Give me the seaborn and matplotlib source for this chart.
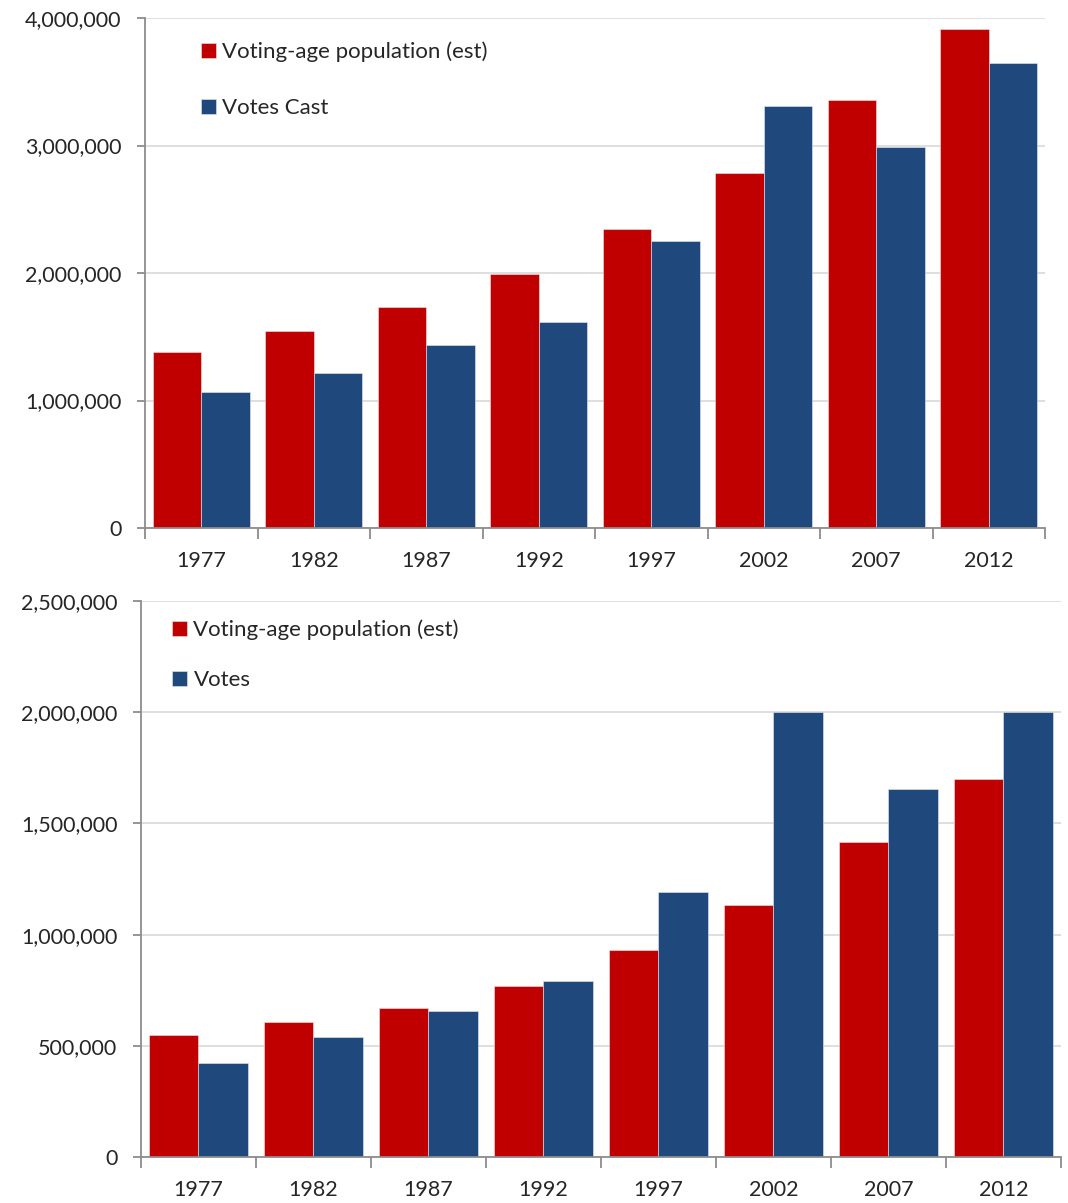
import pandas as pd
import numpy as np
import matplotlib
matplotlib.use("Agg")
import matplotlib.pyplot as plt
import seaborn as sns
from matplotlib.ticker import FuncFormatter, FixedLocator

sns.set_style("white")
plt.rcParams['font.family'] = ['Lato', 'DejaVu Sans']

# data
years = ["1977", "1982", "1987", "1992", "1997", "2002", "2007", "2012"]

top_population = [1380000, 1545000, 1733000, 1992000, 2345000, 2784000, 3357000, 3914000]
top_votes_cast = [1067000, 1216000, 1435000, 1616000, 2251000, 3310000, 2988000, 3647000]

bottom_population = [547000, 605000, 670000, 770000, 930000, 1135000, 1417000, 1698000]
bottom_votes = [421000, 539000, 655000, 791000, 1191000, 2000000, 1653000, 2000000]

red = "#C00000"
blue = "#1F497D"
axis_grey = "#8c8c8c"
text_col = "#262626"


def long_form(pop, votes, votes_label):
    return pd.DataFrame({
        "Year": years * 2,
        "Value": pop + votes,
        "Series": ["Voting-age population (est)"] * len(years) + [votes_label] * len(years),
    })


def style_axis(ax, ymax, step):
    ax.set_xlim(-0.5, len(years) - 0.5)
    ax.set_ylim(0, ymax)
    ax.set_yticks(np.arange(0, ymax + 1, step))
    ax.yaxis.set_major_formatter(FuncFormatter(lambda v, p: f"{int(v):,}"))
    ax.grid(axis="y", color="#d9d9d9", linewidth=1.2)
    ax.set_axisbelow(True)
    for s in ["top", "right"]:
        ax.spines[s].set_visible(False)
    for s in ["left", "bottom"]:
        ax.spines[s].set_color(axis_grey)
        ax.spines[s].set_linewidth(1.3)
    ax.tick_params(axis="y", left=True, length=6, width=1.3, color=axis_grey,
                   labelsize=15.5, labelcolor=text_col, pad=11)
    # x: labels at centres, tick marks at group boundaries
    ax.tick_params(axis="x", which="major", bottom=False, labelsize=15.5,
                   labelcolor=text_col, pad=13)
    ax.xaxis.set_minor_locator(FixedLocator(np.arange(-0.5, len(years), 1.0)))
    ax.tick_params(axis="x", which="minor", bottom=True, length=8, width=1.3,
                   color=axis_grey, direction="out")
    ax.set_xlabel("")
    ax.set_ylabel("")


fig = plt.figure(figsize=(10.68, 12.03), dpi=100)

# ---- top chart ----
ax1 = fig.add_axes([0.1358, 0.5611, 0.8427, 0.4239])
df_top = long_form(top_population, top_votes_cast, "Votes Cast")
sns.barplot(data=df_top, x="Year", y="Value", hue="Series", palette=[red, blue],
            saturation=1, width=0.86, gap=0, ax=ax1, edgecolor="#e8e8e8", linewidth=0.4)
style_axis(ax1, 4000000, 1000000)
ax1.legend(loc="upper left", bbox_to_anchor=(0.05, 0.975), frameon=False,
           fontsize=16, handlelength=0.65, handleheight=0.65, handletextpad=0.3,
           labelspacing=1.6, borderpad=0, labelcolor=text_col)

# ---- bottom chart ----
ax2 = fig.add_axes([0.132, 0.0382, 0.8614, 0.4622])
df_bot = long_form(bottom_population, bottom_votes, "Votes")
sns.barplot(data=df_bot, x="Year", y="Value", hue="Series", palette=[red, blue],
            saturation=1, width=0.86, gap=0, ax=ax2, edgecolor="#e8e8e8", linewidth=0.4)
style_axis(ax2, 2500000, 500000)
ax2.legend(loc="upper left", bbox_to_anchor=(0.022, 0.987), frameon=False,
           fontsize=16, handlelength=0.65, handleheight=0.65, handletextpad=0.3,
           labelspacing=1.35, borderpad=0, labelcolor=text_col)

plt.savefig("out.png", dpi=100)
